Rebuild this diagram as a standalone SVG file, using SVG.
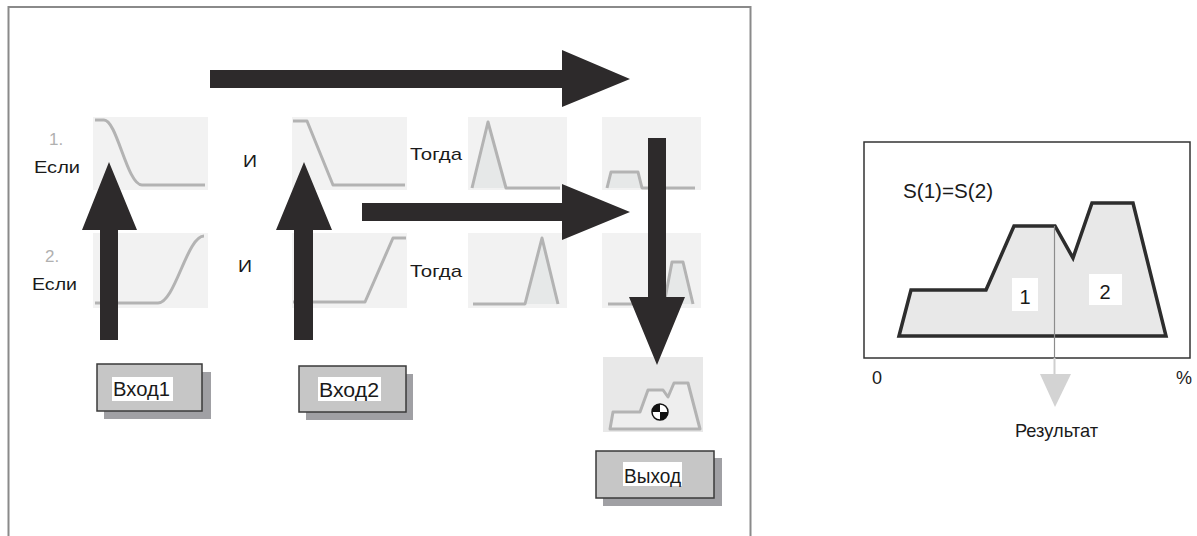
<svg xmlns="http://www.w3.org/2000/svg" width="1197" height="536" viewBox="0 0 1197 536">
<style>
text{font-family:"Liberation Sans",Arial,sans-serif;fill:#1a1a1a}
.lbl{font-size:17px}
.num{font-size:17px;fill:#b0b0b0}
.btn{font-size:20px}
.pan{fill:#f2f2f2}
.crv{fill:none;stroke:#b3b3b3;stroke-width:3;stroke-linejoin:round}
.fil{fill:#e6e8e8;stroke:none}
.arr{fill:#2d2a2b}
.box{fill:#c6c6c6;stroke:#3a3a3a;stroke-width:1.5}
.shd{fill:#a0a0a4}
.wbg{fill:#ffffff}
</style>
<rect x="0" y="0" width="1197" height="536" fill="#ffffff"/>
<rect id="frame" x="8.5" y="7" width="742" height="545" fill="none" stroke="#8a8a8a" stroke-width="2"/>

<g id="row1-if">
<rect class="pan" x="93" y="117" width="115" height="73"/>
<path class="crv" d="M95,120 H104 C117,120 127,185 142,185 H205"/>
</g>
<g id="row1-and">
<rect class="pan" x="292" y="117" width="115" height="73"/>
<path class="crv" d="M293,121 H307 L333,185 H405"/>
</g>
<g id="row1-then">
<rect class="pan" x="468" y="117" width="99" height="73"/>
<path class="fil" d="M472,188 L488,122 L506,188 Z"/>
<path class="crv" d="M472,188 L488,122 L506,188 H560"/>
</g>
<g id="row1-out">
<rect class="pan" x="602" y="117" width="99" height="73"/>
<path class="fil" d="M607,188 L611,172 H638 L642,188 Z"/>
<path class="crv" d="M607,188 L611,172 H638 L642,188 H695"/>
</g>
<g id="row2-if">
<rect class="pan" x="93" y="233" width="115" height="75"/>
<path class="crv" d="M95,303 H158 C175,303 187,236 204,236"/>
</g>
<g id="row2-and">
<rect class="pan" x="292" y="233" width="115" height="75"/>
<path class="crv" d="M293,302 H365 L393,238 H406"/>
</g>
<g id="row2-then">
<rect class="pan" x="468" y="233" width="99" height="75"/>
<path class="fil" d="M525,304 L542,238 L558,304 Z"/>
<path class="crv" d="M473,304 H525 L542,238 L558,304"/>
</g>
<g id="row2-out">
<rect class="pan" x="602" y="233" width="99" height="75"/>
<path class="fil" d="M664,304 L672,262 H683 L693,304 Z"/>
<path class="crv" d="M608,304 H664 L672,262 H683 L693,304"/>
</g>
<g id="result-panel">
<rect x="603" y="357" width="100" height="75" fill="#e8e8e8"/>
<polygon points="610,429 613,412 640,412 648,390 663,390 668,397 674,383 688,383 700,429" fill="#eeeeee" stroke="#b3b3b3" stroke-width="3" stroke-linejoin="round"/>
<circle cx="660" cy="412" r="8" fill="#ffffff" stroke="#111" stroke-width="1.5"/>
<path d="M660,412 V404 A8,8 0 0 0 652,412 Z M660,412 V420 A8,8 0 0 0 668,412 Z" fill="#111"/>
</g>

<g id="labels">
<text class="num" x="49" y="145">1.</text>
<text class="lbl" x="34" y="173" textLength="46" lengthAdjust="spacingAndGlyphs">Если</text>
<text class="lbl" x="243" y="167" textLength="14" lengthAdjust="spacingAndGlyphs">И</text>
<text class="lbl" x="410" y="160" textLength="52" lengthAdjust="spacingAndGlyphs">Тогда</text>
<text class="num" x="45" y="262">2.</text>
<text class="lbl" x="32" y="290" textLength="45" lengthAdjust="spacingAndGlyphs">Если</text>
<text class="lbl" x="238" y="272" textLength="14" lengthAdjust="spacingAndGlyphs">И</text>
<text class="lbl" x="410" y="277" textLength="52" lengthAdjust="spacingAndGlyphs">Тогда</text>
</g>

<g id="connectors">
<polygon class="arr" points="210,70 562,70 562,50 630,79 562,107 562,88 210,88"/>
<polygon class="arr" points="362,203 562,203 562,184 630,212 562,240 562,221 362,221"/>
<polygon class="arr" points="100,340 118,340 118,230 137,230 109,162 82,230 100,230"/>
<polygon class="arr" points="294,340 313,340 313,230 332,230 304,162 276,230 294,230"/>
<polygon class="arr" points="648,138 666,138 666,297 685,297 657,365 629,297 648,297"/>
</g>

<g id="input1">
<rect class="shd" x="104" y="372" width="107" height="47"/>
<rect class="box" x="97" y="364" width="105" height="47"/>
<rect class="wbg" x="112" y="377" width="61" height="24"/>
<text class="btn" x="113" y="396" textLength="57" lengthAdjust="spacingAndGlyphs">Вход1</text>
</g>
<g id="input2">
<rect class="shd" x="306" y="374" width="107" height="46"/>
<rect class="box" x="299" y="366" width="107" height="46"/>
<rect class="wbg" x="318" y="377" width="63" height="24"/>
<text class="btn" x="319" y="397" textLength="60" lengthAdjust="spacingAndGlyphs">Вход2</text>
</g>
<g id="output">
<rect class="shd" x="603" y="458" width="119" height="48"/>
<rect class="box" x="596" y="451" width="118" height="47"/>
<rect class="wbg" x="623" y="462" width="59" height="24"/>
<text class="btn" x="624" y="483" textLength="57" lengthAdjust="spacingAndGlyphs">Выход</text>
</g>

<g id="defuzz-chart">
<rect x="864" y="142" width="326" height="216" fill="#ffffff" stroke="#333" stroke-width="1.5"/>
<text x="903" y="198" font-size="20" textLength="90" lengthAdjust="spacingAndGlyphs">S(1)=S(2)</text>
<polygon points="899,336 911,290 986,290 1014,226 1055,226 1073,258 1092,203 1133,203 1166,336" fill="#e8e8e8" stroke="#2d2d2d" stroke-width="3.5" stroke-linejoin="miter"/>
<rect class="wbg" x="1012" y="278" width="26" height="33"/>
<text x="1025" y="304" font-size="20" text-anchor="middle">1</text>
<rect class="wbg" x="1089" y="274" width="33" height="31"/>
<text x="1105" y="299" font-size="20" text-anchor="middle">2</text>
<text x="872" y="384" font-size="18">0</text>
<text x="1176" y="384" font-size="18">%</text>
<text x="1015" y="437" font-size="19" textLength="83" lengthAdjust="spacingAndGlyphs">Результат</text>
</g>
<g id="result-arrow">
<line x1="1054.5" y1="226" x2="1054.5" y2="358" stroke="#8c8c8c" stroke-width="1.2"/>
<line x1="1054.5" y1="358" x2="1054.5" y2="376" stroke="#cfcfcf" stroke-width="2"/>
<polygon points="1040,374 1071,374 1055,407" fill="#d3d3d3"/>
</g>
</svg>
